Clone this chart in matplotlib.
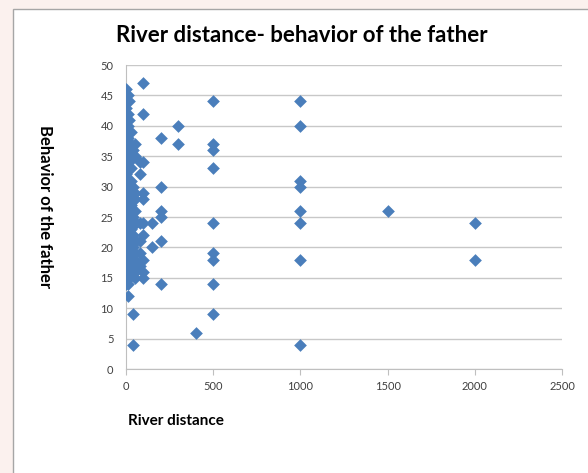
import matplotlib.pyplot as plt
from matplotlib.patches import Rectangle

# river distance (x) and behavior of the father score (y)
distance = (
    [0] * 31
    + [10] * 19
    + [20] * 14
    + [30] * 10
    + [40] * 9
    + [50] * 9
    + [60] * 2
    + [80] * 6
    + [100] * 10
    + [150] * 2
    + [200] * 6
    + [300] * 2
    + [400]
    + [500] * 9
    + [1000] * 8
    + [1500]
    + [2000] * 2
)
behavior = (
    [46, 44, 43, 42, 41, 40, 39, 38, 37, 36, 35, 34, 33, 32, 31, 30,
     29, 28, 27, 26, 25, 24, 23, 22, 21, 20, 19, 18, 17, 16, 14]
    + [45, 42, 40, 38, 36, 35, 33, 31, 29, 27, 26, 25, 23, 22, 20, 19, 18, 12, 14]
    + [44, 41, 37, 35, 34, 30, 28, 26, 24, 21, 20, 18, 16, 15]
    + [39, 37, 36, 33, 31, 27, 25, 23, 19, 17]
    + [36, 35, 30, 25, 22, 20, 18, 9, 4]
    + [37, 35, 29, 28, 26, 19, 18, 16, 15]
    + [24, 21]
    + [34, 32, 24, 21, 19, 17]
    + [47, 42, 34, 29, 28, 24, 22, 18, 16, 15]
    + [24, 20]
    + [38, 30, 26, 25, 21, 14]
    + [40, 37]
    + [6]
    + [44, 37, 36, 33, 24, 19, 18, 14, 9]
    + [44, 40, 31, 30, 26, 24, 18, 4]
    + [26]
    + [24, 18]
)

x_ticks = [0, 500, 1000, 1500, 2000, 2500]
y_ticks = [0, 5, 10, 15, 20, 25, 30, 35, 40, 45, 50]

plt.rcParams['font.family'] = ['Lato', 'DejaVu Sans']

fig = plt.figure(figsize=(5.88, 4.73), dpi=100, facecolor='#fbf1ee')
# white chart area with grey frame, like the slide
fig.patches.append(Rectangle((13 / 588, -0.05), 1.0, 1 - 9 / 473 + 0.05,
                             transform=fig.transFigure, facecolor='white',
                             edgecolor='#a6a6a6', linewidth=1.0, zorder=-5))

ax = fig.add_axes([126 / 588, 1 - 369 / 473, 436 / 588, 304 / 473])
ax.set_facecolor('none')
ax.scatter(distance, behavior, marker='D', s=42, color='#4a7ebb', linewidths=0, zorder=3)

ax.set_xlim(0, 2500)
ax.set_ylim(0, 50)
ax.set_xticks(x_ticks)
ax.set_yticks(y_ticks)
ax.grid(axis='y', color='#c8c8c8', linewidth=1.0)
ax.set_axisbelow(True)

for side in ['top', 'right']:
    ax.spines[side].set_visible(False)
for side in ['left', 'bottom']:
    ax.spines[side].set_color('#bfbfbf')
ax.tick_params(axis='x', length=4, color='#bfbfbf', labelsize=8, labelcolor='#404040', pad=5)
ax.tick_params(axis='y', length=0, labelsize=8, labelcolor='#404040', pad=9)

fig.text(302 / 588, 1 - 35 / 473, 'River distance- behavior of the father',
         ha='center', va='center', fontsize=16, fontweight='bold')
fig.text(128 / 588, 1 - 421 / 473, 'River distance', ha='left', va='center',
         fontsize=11, fontweight='bold')
fig.text(45 / 588, 1 - 207 / 473, 'Behavior of the father', ha='center', va='center',
         rotation=270, fontsize=12, fontweight='bold')

fig.savefig('out.png', dpi=100, facecolor=fig.get_facecolor())
